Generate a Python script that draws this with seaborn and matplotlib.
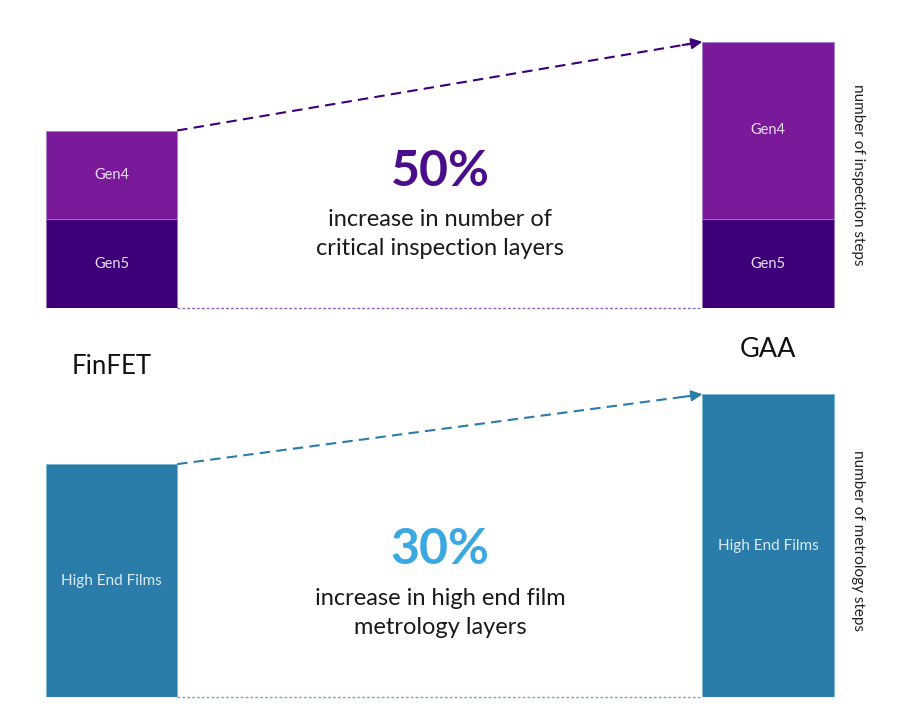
import matplotlib
matplotlib.use("Agg")
import matplotlib.pyplot as plt
import seaborn as sns
import pandas as pd

# ---- data ----
nodes = ["FinFET", "GAA"]
gen5_steps = [1.0, 1.0]
gen4_steps = [1.0, 2.0]
films_steps = [100, 130]
inspection_label = "50%"
inspection_text = "increase in number of\ncritical inspection layers"
metrology_label = "30%"
metrology_text = "increase in high end film\nmetrology layers"

C_GEN4 = "#7B199B"
C_GEN5 = "#3D0079"
C_FILM = "#2A7DAB"
C_50 = "#4A0E8C"
C_30 = "#3BA8E1"

sns.set_theme(style="white")
plt.rcParams["font.family"] = ["Lato", "DejaVu Sans"]

fig = plt.figure(figsize=(8.98, 7.2), dpi=100)
W, H = 898, 720
xl = (-111.5 / 656.5, (W - 111.5) / 656.5)

# ---- top panel: inspection ----
ax1 = fig.add_axes([0, 1 - 308 / H, 1, 284 / H])
df1 = pd.DataFrame({"node": nodes, "gen5": gen5_steps,
                    "total": [a + b for a, b in zip(gen5_steps, gen4_steps)]})
sns.barplot(data=df1, x="node", y="total", color=C_GEN4, width=0.2,
            edgecolor="#A77FC6", linewidth=0.6, saturation=1, ax=ax1)
sns.barplot(data=df1, x="node", y="gen5", color=C_GEN5, width=0.2,
            edgecolor="#A77FC6", linewidth=0.6, saturation=1, ax=ax1)
ax1.set_xlim(*xl)
ax1.set_ylim(0, 3.2)

for i in range(2):
    ax1.text(i, gen5_steps[i] / 2, "Gen5", ha="center", va="center",
             color="#E6DDF0", fontsize=10.5)
    ax1.text(i, gen5_steps[i] + gen4_steps[i] / 2, "Gen4", ha="center",
             va="center", color="#E6DDF0", fontsize=10.5)

t0 = df1["total"][0]
t1 = df1["total"][1]
ax1.plot([0.1, 0.9], [t0, t1], ls=(0, (5, 3)), color=C_GEN5, lw=1.5)
ax1.annotate("", xy=(0.9, t1), xytext=(0.87, t1 - (t1 - t0) * 0.0375),
             arrowprops=dict(arrowstyle="-|>", color=C_GEN5, lw=1.5,
                             mutation_scale=16, shrinkA=0, shrinkB=0))
ax1.plot([0.1, 0.9], [0, 0], ls=(0, (2, 1.5)), color="#8A63C0", lw=1.0,
         clip_on=False)

# ---- bottom panel: metrology ----
ax2 = fig.add_axes([0, 1 - 697 / H, 1, 326 / H])
df2 = pd.DataFrame({"node": nodes, "films": films_steps})
sns.barplot(data=df2, x="node", y="films", color=C_FILM, width=0.2,
            edgecolor="#7FB5D6", linewidth=0.6, saturation=1, ax=ax2)
ax2.set_xlim(*xl)
ax2.set_ylim(0, 140)
for i in range(2):
    ax2.text(i, films_steps[i] * (0.5 if i == 1 else 0.5), "High End Films",
             ha="center", va="center", color="#DCEAF5", fontsize=11)
f0, f1 = films_steps
ax2.plot([0.1, 0.9], [f0, f1], ls=(0, (5, 3)), color=C_FILM, lw=1.5)
ax2.annotate("", xy=(0.9, f1), xytext=(0.87, f1 - (f1 - f0) * 0.0375),
             arrowprops=dict(arrowstyle="-|>", color=C_FILM, lw=1.5,
                             mutation_scale=16, shrinkA=0, shrinkB=0))
ax2.plot([0.1, 0.9], [0, 0], ls=(0, (2, 1.5)), color="#6FA8CF", lw=1.0,
         clip_on=False)

for ax in (ax1, ax2):
    ax.axis("off")
    ax.patch.set_alpha(0)

# ---- annotations ----
fig.text(440 / W, 1 - 172 / H, inspection_label, ha="center", va="center",
         fontsize=36, fontweight="bold", color=C_50)
fig.text(440 / W, 1 - 234 / H, inspection_text, ha="center", va="center",
         fontsize=17, color="#1a1a1a", linespacing=1.45)
fig.text(440 / W, 1 - 550 / H, metrology_label, ha="center", va="center",
         fontsize=36, fontweight="bold", color=C_30)
fig.text(440 / W, 1 - 613 / H, metrology_text, ha="center", va="center",
         fontsize=17, color="#1a1a1a", linespacing=1.45)

fig.text(111.5 / W, 1 - 367 / H, nodes[0], ha="center", va="center",
         fontsize=18.5, color="#111111")
fig.text(768 / W, 1 - 349 / H, nodes[1], ha="center", va="center",
         fontsize=19.5, color="#111111")

fig.text(858 / W, 1 - 175 / H, "number of inspection steps", rotation=-90,
         ha="center", va="center", fontsize=11, color="#222222")
fig.text(858 / W, 1 - 540 / H, "number of metrology steps", rotation=-90,
         ha="center", va="center", fontsize=11, color="#222222")

fig.savefig("out.png", dpi=100, facecolor="white")
